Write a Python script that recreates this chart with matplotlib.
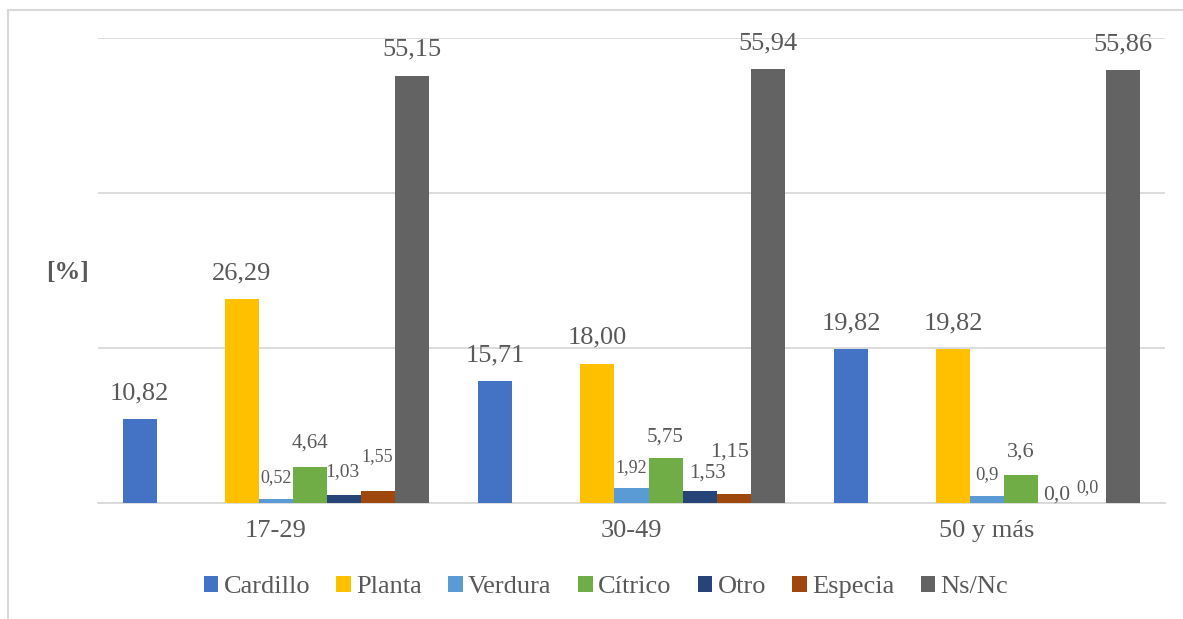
import matplotlib
matplotlib.use("Agg")
import matplotlib.pyplot as plt
from matplotlib.patches import Patch, Rectangle

# ---- data ----
groups = ["17-29", "30-49", "50 y más"]
series = ["Cardillo", "Planta", "Verdura", "Cítrico", "Otro", "Especia", "Ns/Nc"]
cardillo = [10.82, 15.71, 19.82]
planta = [26.29, 18.00, 19.82]
verdura = [0.52, 1.92, 0.9]
citrico = [4.64, 5.75, 3.6]
otro = [1.03, 1.53, 0.0]
especia = [1.55, 1.15, 0.0]
nsnc = [55.15, 55.94, 55.86]
labels_cardillo = ["10,82", "15,71", "19,82"]
labels_planta = ["26,29", "18,00", "19,82"]
labels_verdura = ["0,52", "1,92", "0,9"]
labels_citrico = ["4,64", "5,75", "3,6"]
labels_otro = ["1,03", "1,53", "0,0"]
labels_especia = ["1,55", "1,15", "0,0"]
labels_nsnc = ["55,15", "55,94", "55,86"]

values = [cardillo, planta, verdura, citrico, otro, especia, nsnc]
labels = [labels_cardillo, labels_planta, labels_verdura, labels_citrico,
          labels_otro, labels_especia, labels_nsnc]

# ---- style ----
colors = ["#4472C4", "#FFC000", "#5B9BD5", "#70AD47", "#264478", "#9E480E", "#636363"]
slots = [0, 3, 4, 5, 6, 7, 8]          # 9 slots per cluster (two empty)
nslots = 9
bw = 0.0956
BIG = 19
# per series per group: (fontsize, dx_px, dy_px above bar top)
lab_style = [
    [(BIG, 0, 26), (BIG, 0, 26), (BIG, 0, 26)],
    [(BIG, 0, 26), (BIG, 0, 26), (BIG, 0, 26)],
    [(13, 0, 21), (13, 0, 21), (13.5, 0, 21)],
    [(15, 0, 24), (15, 0, 21), (16, 0, 23)],
    [(14, -1, 23), (15, 8, 18), (15.5, 2, 8)],
    [(13, -1, 34), (16, -4, 42), (13, -2, 15)],
    [(BIG, 0, 26), (BIG, 0, 26), (BIG, 0, 26)],
]
txt_color = "#595959"
grid_color = "#D9D9D9"

plt.rcParams["font.family"] = ["Liberation Serif", "DejaVu Serif"]

fig = plt.figure(figsize=(11.83, 6.19), dpi=100)
ax = fig.add_axes([98 / 1183, 1 - 503 / 619, (1165 - 98) / 1183, (503 - 38) / 619])

# chart frame
fig.patches.append(Rectangle((8 / 1183, -0.1), 1.2, 1 - 10 / 619 + 0.1,
                             transform=fig.transFigure, fill=False,
                             edgecolor=grid_color, linewidth=1.5, zorder=0))

x = range(len(groups))
for s, (vals, labs) in enumerate(zip(values, labels)):
    off = (slots[s] - (nslots - 1) / 2) * bw
    xs = [xi + off for xi in x]
    ax.bar(xs, vals, width=bw, color=colors[s], zorder=3, label=series[s],
           linewidth=0)
    for g in range(len(groups)):
        fs, dx, dy = lab_style[s][g]
        ax.annotate(labs[g], (xs[g], vals[g]), xytext=(dx, dy),
                    textcoords="offset pixels", ha="center", va="center",
                    fontsize=fs, color=txt_color, zorder=4)

ax.set_xlim(-0.5, 2.5)
ax.set_ylim(0, 60)
ax.set_yticks([0, 20, 40, 60])
ax.set_yticklabels([])
ax.tick_params(axis="y", length=0)
ax.yaxis.grid(True, color=grid_color, linewidth=1.3, zorder=0)
ax.set_axisbelow(True)
ax.set_xticks(list(x))
ax.set_xticklabels(groups, fontsize=BIG, color=txt_color)
ax.tick_params(axis="x", length=0, pad=12)
for sp in ["top", "right", "left"]:
    ax.spines[sp].set_visible(False)
ax.spines["bottom"].set_color(grid_color)
ax.spines["bottom"].set_linewidth(1.3)

fig.text(68 / 1183, 1 - 273 / 619, "[%]", fontsize=18.5, fontweight="bold",
         color=txt_color, ha="center", va="center")

handles = [Patch(facecolor=c, edgecolor="none") for c in colors]
leg = fig.legend(handles, series, loc="center", bbox_to_anchor=(606 / 1183, 1 - 587 / 619),
                 ncol=7, frameon=False, fontsize=BIG, handlelength=0.55,
                 handleheight=0.55, handletextpad=0.2, columnspacing=1.0,
                 labelcolor=txt_color)

fig.savefig("out.png", dpi=100)
